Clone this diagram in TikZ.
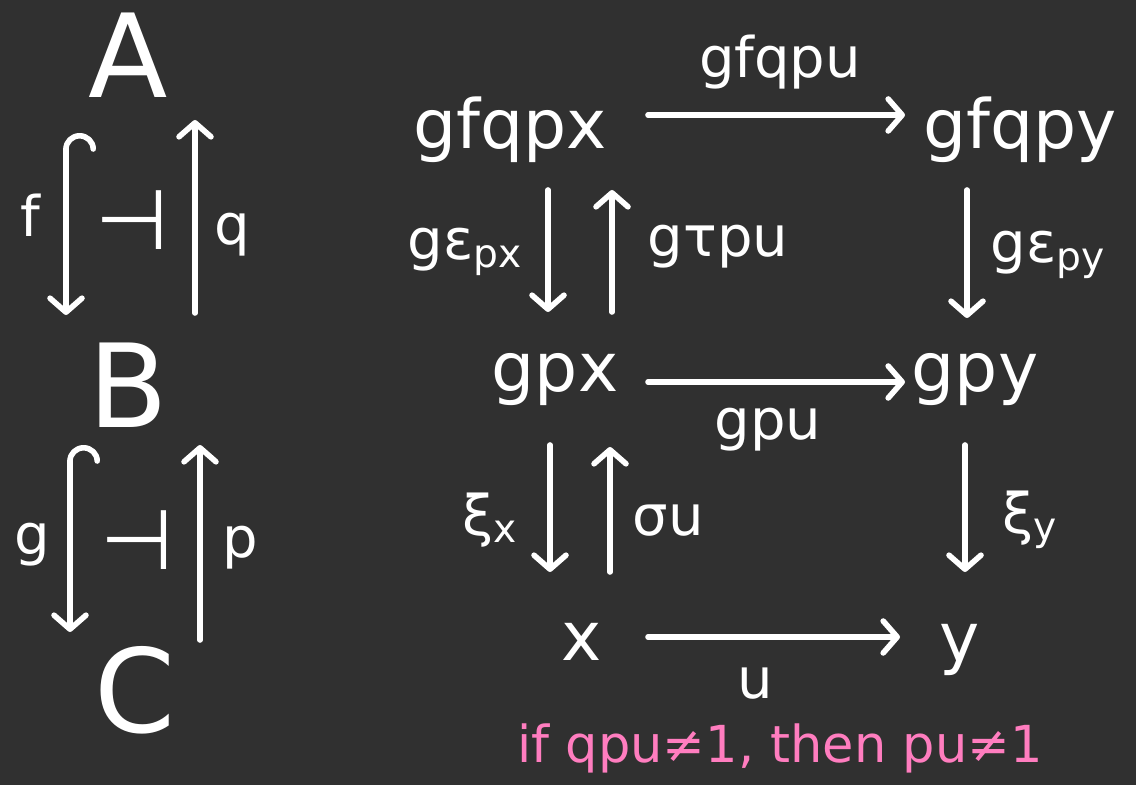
\documentclass[tikz,border=0pt]{standalone}
\usepackage{fontspec}
\setmainfont{DejaVu Sans}
\usetikzlibrary{arrows.meta,calc}
\definecolor{board}{HTML}{303030}
\definecolor{chalkpink}{HTML}{FF7DBF}
\begin{document}
\begin{tikzpicture}[x=0.5pt,y=-0.5pt,line join=round,line cap=round,line width=2.8pt,white,
		obj/.style={font=\fontsize{34}{40}\selectfont,inner sep=0pt},
		big/.style={font=\fontsize{58}{68}\selectfont,inner sep=0pt},
		lbl/.style={font=\fontsize{28}{32}\selectfont,inner sep=0pt},
		adj/.style={font=\fontsize{42}{48}\selectfont,inner sep=0pt},
		arr/.style={-{Straight Barb[length=7pt,width=16pt,round]}},
		hookarr/.style={{Hooks[arc=180,right,length=8pt,width=30pt,round]}-{Straight Barb[length=7pt,width=16pt,round]}}]
				\fill[board] (0,0) rectangle (1136,785);
				\useasboundingbox (0,0) rectangle (1136,785);
				\node[big] (A) at (128,55) {A};
				\node[big] (B) at (128,385) {B};
				\node[big] (C) at (135,690) {C};
				\node[lbl] (f) at (30,215) {f};
				\node[lbl] (q) at (232,235) {q};
				\node[lbl] (g) at (32,545) {g};
				\node[lbl] (p) at (240,548) {p};
				\node[adj] (adj1) at (132,220) {⊣};
				\node[adj] (adj2) at (137,540) {⊣};
				\draw[hookarr] ($(A)+(-62,78)$) -- ($(B)+(-62,-70)$);
				\draw[arr] ($(B)+(67,-72)$) -- ($(A)+(67,65)$);
				\draw[hookarr] ($(B)+(-58,60)$) -- ($(C)+(-65,-58)$);
				\draw[arr] ($(C)+(65,-50)$) -- ($(B)+(72,60)$);
				\node[obj] (gfqpx) at (510,130) {gfqpx};
				\node[obj] (gfqpy) at (1020,130) {gfqpy};
				\node[obj] (gpx) at (555,380) {gpx};
				\node[obj] (gpy) at (975,380) {gpy};
				\node[obj] (x) at (582,642) {x};
				\node[obj] (y) at (960,650) {y};
				\draw[arr] ($(gfqpx)+(138,-15)$) -- ($(gfqpy)+(-115,-15)$);
				\draw[arr] ($(gpx)+(93,2)$) -- ($(gpy)+(-70,2)$);
				\draw[arr] ($(x)+(66,-5)$) -- ($(y)+(-60,-13)$);
				\draw[arr] ($(gfqpx)+(38,60)$) -- ($(gpx)+(-7,-68)$);
				\draw[arr] ($(gpx)+(57,-68)$) -- ($(gfqpx)+(102,60)$);
				\draw[arr] ($(gfqpy)+(-53,60)$) -- ($(gpy)+(-8,-62)$);
				\draw[arr] ($(gpx)+(-5,65)$) -- ($(x)+(-32,-70)$);
				\draw[arr] ($(x)+(28,-70)$) -- ($(gpx)+(55,67)$);
				\draw[arr] ($(gpy)+(-10,65)$) -- ($(y)+(5,-78)$);
				\node[lbl] (gfqpu) at (780,62) {gfqpu};
				\node[lbl] (gepx) at (465,252) {gε\textsubscript{px}};
				\node[lbl] (gtpu) at (718,247) {gτpu};
				\node[lbl] (gepy) at (1048,255) {gε\textsubscript{py}};
				\node[lbl] (gpu) at (768,430) {gpu};
				\node[lbl] (xix) at (490,520) {ξ\textsubscript{x}};
				\node[lbl] (su) at (668,520) {σu};
				\node[lbl] (xiy) at (1030,520) {ξ\textsubscript{y}};
				\node[lbl] (u) at (755,683) {u};
				\node[chalkpink,font=\fontsize{25.5}{30}\selectfont] (note) at (780,748) {if qpu≠1, then pu≠1};
			\end{tikzpicture}
\end{document}
